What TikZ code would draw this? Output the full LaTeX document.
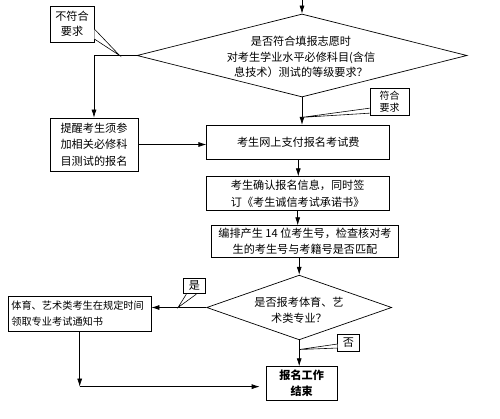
\documentclass[tikz,border=0pt]{standalone}
\usepackage{fontspec}
\setmainfont{Noto Sans CJK SC}
\usetikzlibrary{arrows.meta,positioning,shapes.geometric}

\begin{document}
\begin{tikzpicture}[x=0.03cm, y=-0.03cm,
    block/.style={draw, rectangle, line width=0.6pt, align=center, inner sep=2pt, font=\fontsize{9.5}{14}\selectfont},
    cond/.style={draw, diamond, line width=0.6pt, inner sep=0pt},
    note/.style={draw, rectangle, line width=0.6pt, align=center, inner sep=1pt, fill=white, font=\fontsize{9.5}{13}\selectfont},
    wedge/.style={draw, line width=0.5pt, fill=white},
    arrow/.style={-{Latex[length=2.4mm,width=1.5mm]}, line width=0.6pt}
]
\useasboundingbox (0,0) rectangle (500,419);

% conditions
\node[cond, minimum width=9.9cm, minimum height=2.49cm] (q1) at (302,55.5) {};
\node[align=center, font=\fontsize{9.5}{13}\selectfont] (q1t) at (301,57) {是否符合填报志愿时\\对考生学业水平必修科目(含信\\息技术）测试的等级要求？};
\node[cond, minimum width=5.55cm, minimum height=1.94cm] (q2) at (299.2,307.5) {};
\node[align=center, font=\fontsize{9.5}{14}\selectfont] (q2t) at (299,310) {是否报考体育、艺\\术类专业？};

% steps
\node[block, minimum width=2.64cm, minimum height=1.59cm] (remind) at (94,144.5) {提醒考生须参\\加相关必修科\\目测试的报名};
\node[block, minimum width=5.49cm, minimum height=1.02cm] (pay) at (298.3,142.2) {考生网上支付报名考试费};
\node[block, minimum width=5.49cm, minimum height=1.02cm] (confirm) at (297.7,193.7) {考生确认报名信息，同时签\\订《考生诚信考试承诺书》};
\node[block, minimum width=5.6cm, minimum height=0.95cm] (number) at (305,241.5) {编排产生 14 位考生号，检查核对考\\生的考生号与考籍号是否匹配};
\node[block, minimum width=4.28cm, minimum height=1.03cm, align=left, text width=4.1cm, font=\fontsize{8.7}{14}\selectfont] (sport) at (79.7,313.8) {体育、艺术类考生在规定时间\\领取专业考试通知书};
\node[block, minimum width=2.14cm, minimum height=1cm, font=\fontsize{9.5}{14}\selectfont\bfseries] (done) at (301.7,383.3) {报名工作\\结束};

% connectors
\coordinate (top) at (302,0);
\draw[arrow] (top) -- (q1.north);
\draw[arrow] (q1.west) -| (remind.north);
\draw[arrow] (remind.east) -- (remind.east -| pay.west);
\draw[arrow] (q1.south) -- (q1.south |- pay.north);
\draw[arrow] (pay.south) -- (pay.south |- confirm.north);
\draw[arrow] (confirm.south) -- (confirm.south |- number.north);
\draw[arrow] (q2.north |- number.south) -- (q2.north);
\draw[arrow] (q2.west) -- (q2.west -| sport.east);
\draw[arrow] (q2.south) -- (q2.south |- done.north);
\coordinate (low) at ([yshift=-0.1cm]sport.south |- done.west);
\draw[arrow] (sport.south) -- (low);
\draw[arrow, shorten >=0.18cm] (low) -- (low -| done.west);

% callouts
\node[note, minimum width=1.32cm, minimum height=1.08cm] (nofit) at (72,24) {不符合\\要求};
\node[note, minimum width=1.17cm, minimum height=0.81cm, font=\fontsize{8.5}{10}\selectfont] (fit) at (389.5,101.5) {符合\\要求};
\node[note, minimum width=0.67cm, minimum height=0.47cm] (yes) at (194.5,286) {是};
\node[note, minimum width=0.65cm, minimum height=0.5cm] (no) at (348.5,342.7) {否};

\coordinate (t1) at ([xshift=-0.51cm]q1.west);
\coordinate (t2) at ([yshift=-0.6cm]q1.south);
\coordinate (t3) at ([xshift=-0.85cm]q2.west);
\coordinate (t4) at ([yshift=-0.28cm]q2.south);
\draw[wedge] ([yshift=-0.15cm]nofit.east) -- (t1) -- ([yshift=-0.45cm]nofit.east);
\draw[wedge] ([yshift=-0.2cm]fit.west) -- (t2) -- ([yshift=-0.35cm]fit.west);
\draw[wedge] ([xshift=0.1cm]yes.south west) -- (t3) -- ([xshift=0.4cm]yes.south west);
\draw[wedge] ([yshift=-0.04cm]no.west) -- (t4) -- ([yshift=-0.16cm]no.west);
\end{tikzpicture}
\end{document}
